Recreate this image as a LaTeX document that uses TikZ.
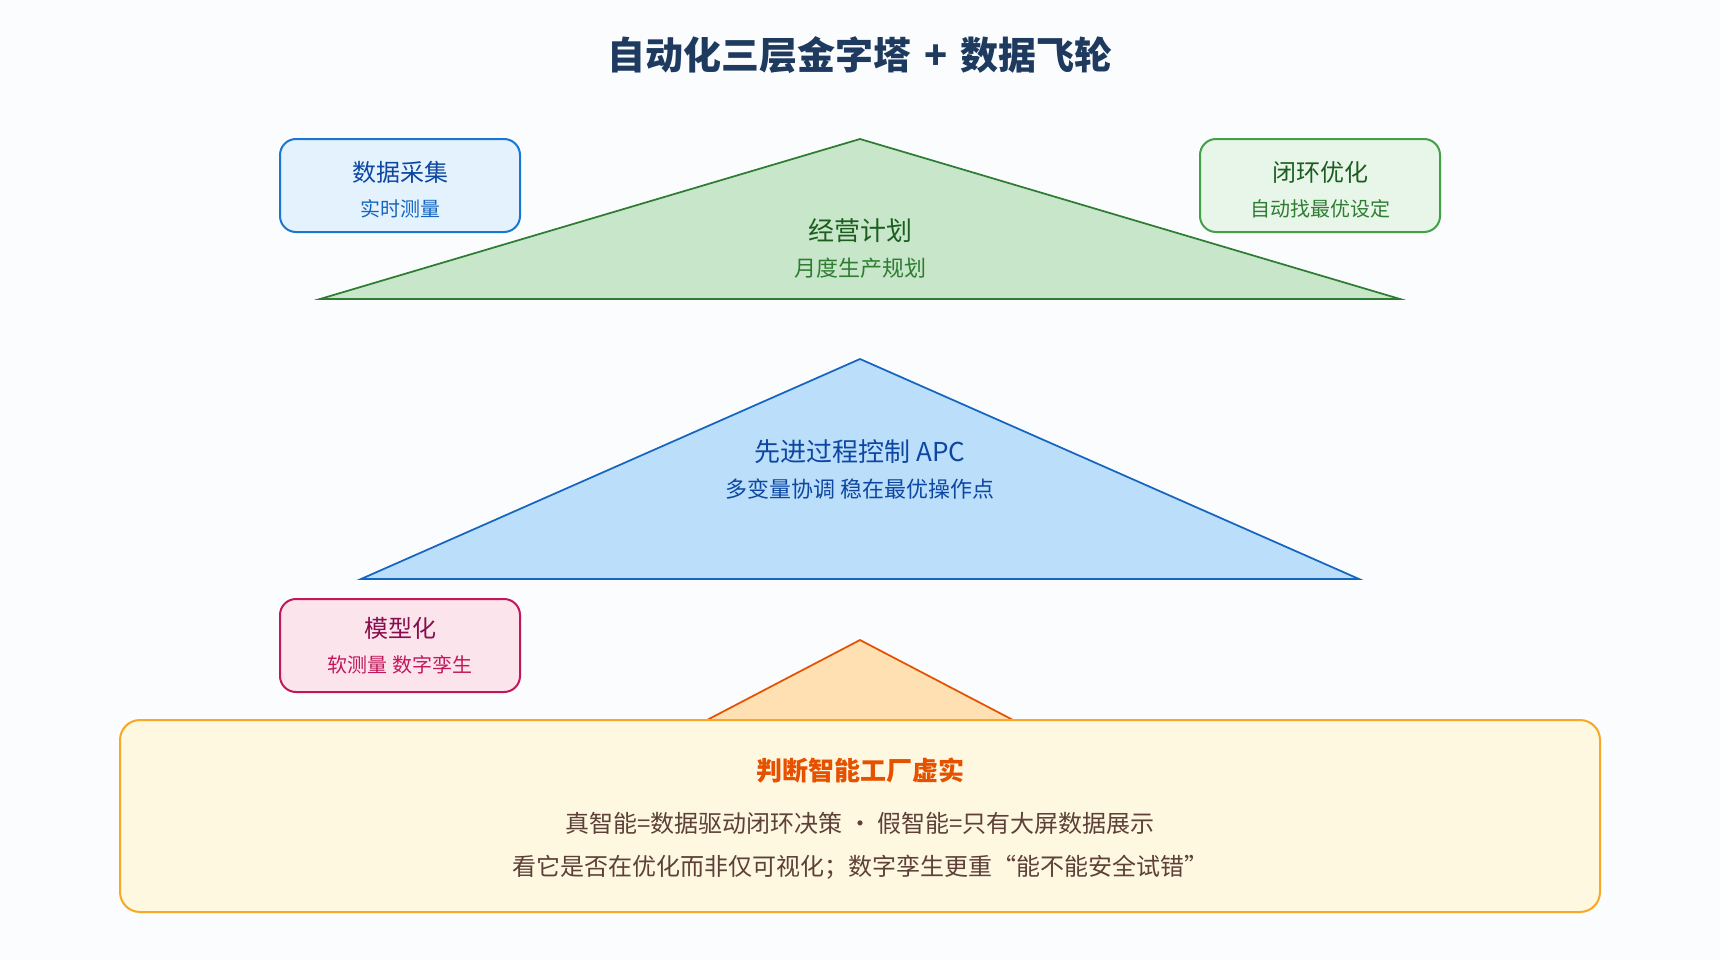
\documentclass[tikz,border=0pt]{standalone}
\usepackage{fontspec}
\setmainfont{Noto Sans CJK SC}
\definecolor{bgc}{HTML}{FBFCFE}
\definecolor{titlec}{HTML}{1E3A5F}
\definecolor{bluefill}{HTML}{E3F2FD}
\definecolor{bluedraw}{HTML}{1976D2}
\definecolor{bluedark}{HTML}{0D47A1}
\definecolor{bluemid}{HTML}{1565C0}
\definecolor{bluetri}{HTML}{BBDEFB}
\definecolor{greenfill}{HTML}{E8F5E9}
\definecolor{greendraw}{HTML}{43A047}
\definecolor{greendark}{HTML}{1B5E20}
\definecolor{greenmid}{HTML}{2E7D32}
\definecolor{greentri}{HTML}{C8E6C9}
\definecolor{pinkfill}{HTML}{FCE4EC}
\definecolor{pinkdraw}{HTML}{C2185B}
\definecolor{pinkdark}{HTML}{880E4F}
\definecolor{orangetri}{HTML}{FFE0B2}
\definecolor{orangedark}{HTML}{E65100}
\definecolor{notefill}{HTML}{FFF8E1}
\definecolor{notedraw}{HTML}{F9A825}
\definecolor{brownc}{HTML}{5D4037}
\begin{document}
\begin{tikzpicture}[x=0.75pt,y=-0.75pt,
  sidebox/.style={rounded corners=12pt, line width=1.5pt, minimum width=180pt, minimum height=69.75pt, inner sep=0pt},
  tri/.style={line width=1.3pt, line join=miter},
  lbl/.style={inner sep=0pt, anchor=center, align=center},
  boxtitle/.style={lbl, font=\fontsize{18pt}{21pt}\selectfont},
  boxsub/.style={lbl, font=\fontsize{15pt}{18pt}\selectfont},
  tritext/.style={lbl, font=\fontsize{19.5pt}{23pt}\selectfont},
  trisub/.style={lbl, font=\fontsize{16.5pt}{20pt}\selectfont},
  noteline/.style={lbl, font=\fontsize{18pt}{21pt}\selectfont, text=brownc}]
\path[fill=bgc] (0,0) rectangle (1720,960);
\useasboundingbox (0,0) rectangle (1720,960);

% title
\node[lbl, font=\fontsize{28.5pt}{33pt}\selectfont\bfseries, text=titlec] (title) at (860,55) {自动化三层金字塔\hspace{0.35em}+\hspace{0.35em}数据飞轮};

% top pyramid (green)
\coordinate (gA) at (860,139);
\coordinate (gL) at (320,299);
\coordinate (gR) at (1400,299);
\draw[tri, draw=greenmid, fill=greentri] (gA) -- (gR) -- (gL) -- cycle;
\node[tritext, text=greendark] (gT) at (860,231) {经营计划};
\node[trisub, text=greenmid] (gS) at (860,268) {月度生产规划};

% middle pyramid (blue)
\coordinate (bA) at (860,359);
\coordinate (bL) at (361,579);
\coordinate (bR) at (1359,579);
\draw[tri, draw=bluemid, fill=bluetri] (bA) -- (bR) -- (bL) -- cycle;
\node[tritext, text=bluedark] (bT) at (860,452) {先进过程控制 APC};
\node[trisub, text=bluedark] (bS) at (860,489) {多变量协调 稳在最优操作点};

% bottom pyramid (orange), partly hidden by the note box
\coordinate (oA) at (860,640);
\coordinate (oL) at (554,800);
\coordinate (oR) at (1166,800);
\draw[tri, draw=orangedark, fill=orangetri] (oA) -- (oR) -- (oL) -- cycle;

% side boxes
\node[sidebox, draw=bluedraw, fill=bluefill] (collect) at (400,185.5) {};
\node[boxtitle, text=bluedark] (collectT) at (400,172) {数据采集};
\node[boxsub, text=bluemid] (collectS) at (400,209) {实时测量};

\node[sidebox, draw=greendraw, fill=greenfill] (loop) at (1320,185.5) {};
\node[boxtitle, text=greendark] (loopT) at (1320,172) {闭环优化};
\node[boxsub, text=greenmid] (loopS) at (1320,209) {自动找最优设定};

\node[sidebox, draw=pinkdraw, fill=pinkfill] (model) at (400,645.5) {};
\node[boxtitle, text=pinkdark] (modelT) at (400,628) {模型化};
\node[boxsub, text=pinkdraw] (modelS) at (400,665) {软测量 数字孪生};

% note box
\node[rounded corners=15pt, line width=1.5pt, draw=notedraw, fill=notefill, minimum width=1110pt, minimum height=144pt, inner sep=0pt] (note) at (860,816) {};
\node[lbl, font=\fontsize{19.5pt}{23pt}\selectfont\bfseries, text=orangedark] (noteT) at (860,771) {判断智能工厂虚实};
\node[noteline] (noteA) at (860,823) {真智能=数据驱动闭环决策 · 假智能=只有大屏数据展示};
\node[noteline] (noteB) at (860,867) {看它是否在优化而非仅可视化；数字孪生更重“能不能安全试错”};
\end{tikzpicture}
\end{document}
